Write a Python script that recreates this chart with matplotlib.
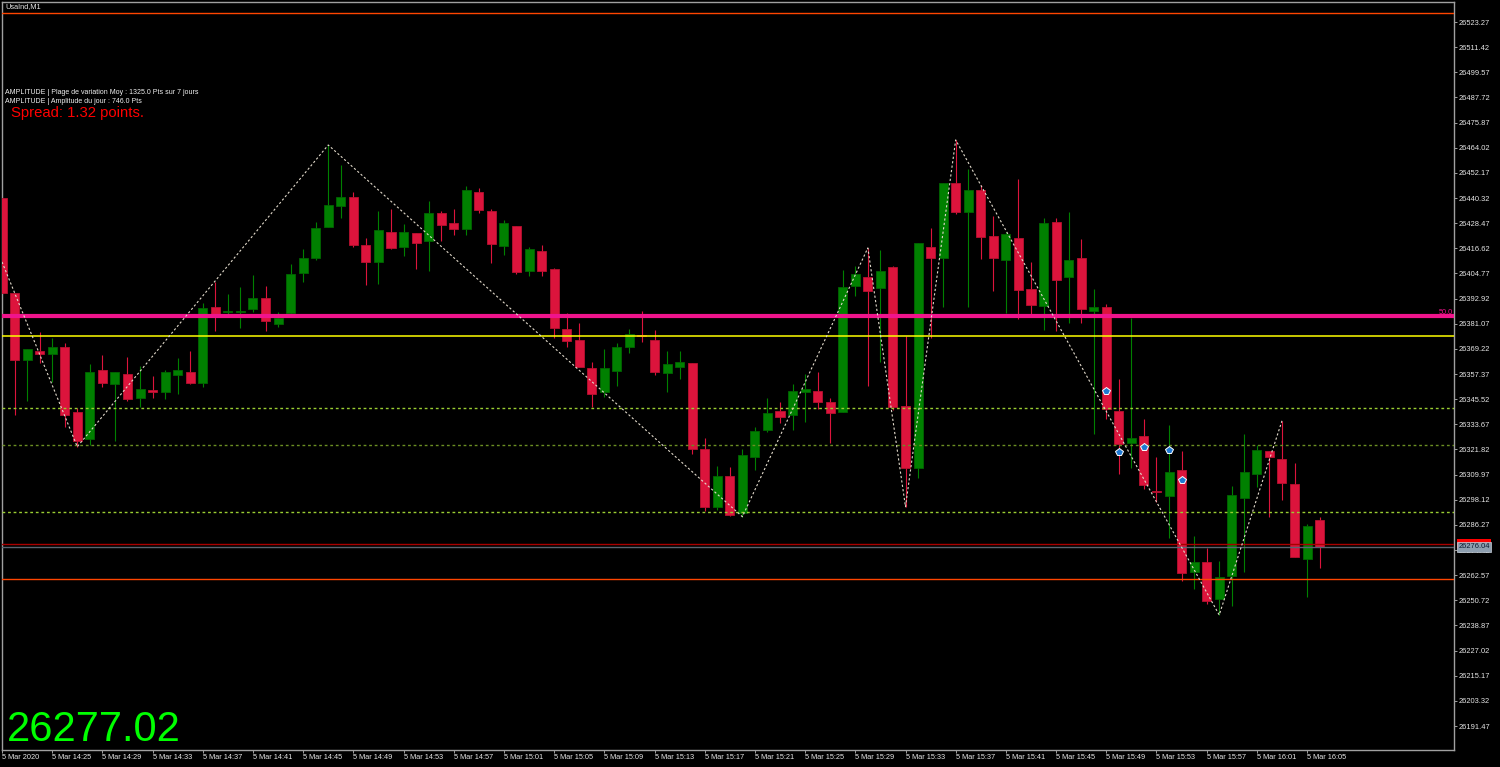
import matplotlib
matplotlib.use("Agg")
import matplotlib.pyplot as plt
from matplotlib.patches import Rectangle
import numpy as np

# ---------------- data ----------------
opens = [26440.2, 26395.7, 26364.0, 26368.1, 26366.8, 26370.2, 26339.3, 26326.9, 26359.3, 26352.7,
         26357.4, 26345.9, 26349.6, 26349.0, 26356.9, 26358.2, 26353.0, 26389.1, 26386.4, 26386.6,
         26387.9, 26393.1, 26380.8, 26386.0, 26404.8, 26411.9, 26426.7, 26436.7, 26440.7, 26418.2,
         26410.0, 26424.3, 26417.1, 26423.7, 26420.1, 26433.1, 26428.4, 26425.7, 26443.2, 26434.2,
         26417.7, 26427.1, 26405.9, 26415.3, 26406.9, 26378.4, 26373.2, 26360.3, 26349.0, 26358.9,
         26370.0, 26375.6, 26373.2, 26357.7, 26360.8, 26362.4, 26322.2, 26294.8, 26309.3, 26292.0,
         26318.4, 26330.8, 26339.9, 26337.9, 26349.0, 26349.4, 26344.0, 26339.6, 26399.0, 26403.2,
         26397.8, 26408.0, 26342.3, 26313.2, 26417.2, 26412.2, 26447.3, 26433.9, 26444.1, 26422.4,
         26411.1, 26421.3, 26397.3, 26389.6, 26429.0, 26403.0, 26412.0, 26387.1, 26389.1, 26339.9,
         26325.0, 26328.1, 26302.1, 26300.0, 26312.1, 26264.2, 26268.6, 26251.5, 26262.2, 26299.1,
         26310.2, 26321.1, 26317.3, 26305.5, 26270.3, 26288.6]
highs = [26440.2, 26395.7, 26369.0, 26377.0, 26374.3, 26372.1, 26341.2, 26362.1, 26366.3, 26358.2,
         26365.5, 26361.1, 26356.4, 26359.3, 26365.1, 26368.1, 26391.0, 26400.9, 26395.1, 26398.4,
         26403.9, 26399.0, 26386.7, 26409.1, 26416.3, 26428.9, 26465.3, 26455.9, 26443.0, 26421.3,
         26434.2, 26435.0, 26428.2, 26423.9, 26438.9, 26434.2, 26435.1, 26446.1, 26444.9, 26435.0,
         26430.0, 26427.3, 26417.1, 26418.3, 26407.1, 26386.0, 26381.3, 26363.2, 26369.0, 26372.1,
         26378.4, 26387.2, 26378.1, 26368.2, 26368.2, 26362.6, 26327.3, 26314.0, 26313.4, 26322.0,
         26332.3, 26346.2, 26344.3, 26352.5, 26357.2, 26358.5, 26346.2, 26406.4, 26408.3, 26416.8,
         26416.0, 26408.2, 26375.4, 26419.2, 26426.2, 26447.5, 26467.7, 26454.0, 26446.4, 26432.0,
         26424.4, 26449.3, 26410.2, 26430.9, 26430.9, 26433.7, 26421.0, 26397.3, 26390.4, 26355.0,
         26383.6, 26336.2, 26318.1, 26333.3, 26321.1, 26281.2, 26275.2, 26269.4, 26304.6, 26329.2,
         26323.9, 26321.3, 26335.3, 26315.6, 26286.7, 26290.1]
lows = [26394.6, 26337.9, 26344.8, 26362.7, 26353.6, 26332.5, 26323.1, 26323.9, 26351.1, 26325.8,
        26344.8, 26342.0, 26345.9, 26345.6, 26347.8, 26352.8, 26351.1, 26377.8, 26385.2, 26378.9,
        26386.7, 26377.8, 26379.7, 26385.5, 26400.9, 26411.1, 26426.5, 26431.0, 26417.1, 26399.3,
        26399.7, 26416.1, 26413.0, 26407.0, 26406.1, 26420.1, 26422.9, 26422.9, 26433.4, 26409.8,
        26413.5, 26404.6, 26403.6, 26403.6, 26374.2, 26370.0, 26360.6, 26342.0, 26346.7, 26351.7,
        26367.1, 26372.6, 26356.8, 26349.0, 26354.9, 26319.7, 26293.0, 26293.3, 26290.6, 26290.1,
        26312.1, 26330.0, 26334.2, 26331.0, 26334.9, 26341.0, 26325.0, 26339.4, 26394.1, 26351.9,
        26363.2, 26340.4, 26294.8, 26308.2, 26374.2, 26388.8, 26432.8, 26389.1, 26411.7, 26396.6,
        26386.0, 26383.2, 26385.2, 26378.1, 26377.6, 26381.6, 26381.5, 26329.1, 26336.0, 26310.2,
        26313.2, 26303.0, 26297.2, 26280.2, 26260.0, 26255.9, 26248.8, 26243.8, 26248.2, 26263.9,
        26304.3, 26289.8, 26298.0, 26271.0, 26252.4, 26266.1]
closes = [26395.7, 26364.0, 26369.0, 26366.9, 26370.2, 26338.1, 26325.9, 26358.2, 26353.0, 26358.2,
          26345.6, 26350.3, 26349.1, 26358.2, 26359.3, 26353.0, 26388.5, 26385.2, 26386.8, 26387.1,
          26393.1, 26382.4, 26383.9, 26404.4, 26411.9, 26426.0, 26437.0, 26440.7, 26418.2, 26410.0,
          26425.2, 26416.6, 26424.3, 26419.0, 26433.1, 26427.6, 26425.9, 26444.1, 26434.7, 26418.6,
          26428.4, 26405.6, 26416.1, 26405.9, 26378.9, 26373.1, 26360.8, 26347.8, 26360.2, 26370.2,
          26376.2, 26375.3, 26358.3, 26362.1, 26362.9, 26322.0, 26294.8, 26309.3, 26290.9, 26319.2,
          26330.4, 26339.1, 26337.3, 26349.2, 26350.3, 26344.2, 26339.0, 26398.4, 26404.4, 26396.6,
          26406.1, 26342.0, 26313.2, 26419.0, 26412.2, 26447.3, 26433.9, 26444.1, 26421.8, 26412.2,
          26423.2, 26397.0, 26390.0, 26428.4, 26401.7, 26411.1, 26388.0, 26389.1, 26340.9, 26324.2,
          26327.3, 26305.1, 26301.7, 26311.2, 26263.4, 26268.6, 26250.4, 26261.6, 26300.3, 26311.2,
          26321.6, 26318.1, 26306.1, 26271.3, 26285.7, 26276.0]

# zigzag pivots (bar index, 'H' = bar high / 'L' = bar low); first point continues from off-chart
zz_start_value = 26410.2
zz_index = [6, 26, 59, 69, 72, 76, 97, 102]
zz_kind = ['L', 'H', 'L', 'H', 'L', 'H', 'L', 'H']

# arrow signals (bar index, price)
sig_index = [88, 89, 91, 93, 94]
sig_price = [26349.5, 26320.6, 26323.1, 26321.6, 26307.4]

# horizontal levels
level_top_orange = 26527.4
level_pink = 26384.7
level_yellow = 26375.1
level_green_dotted = [26341.2, 26323.9, 26292.2]
level_ask = 26277.36
level_bid = 26276.04
level_low_orange = 26260.8

y_tick_values = [26523.27, 26511.42, 26499.57, 26487.72, 26475.87, 26464.02, 26452.17, 26440.32,
                 26428.47, 26416.62, 26404.77, 26392.92, 26381.07, 26369.22, 26357.37, 26345.52,
                 26333.67, 26321.82, 26309.97, 26298.12, 26286.27, 26274.42, 26262.57, 26250.72,
                 26238.87, 26227.02, 26215.17, 26203.32, 26191.47]
x_tick_labels = ["5 Mar 2020", "5 Mar 14:25", "5 Mar 14:29", "5 Mar 14:33", "5 Mar 14:37",
                 "5 Mar 14:41", "5 Mar 14:45", "5 Mar 14:49", "5 Mar 14:53", "5 Mar 14:57",
                 "5 Mar 15:01", "5 Mar 15:05", "5 Mar 15:09", "5 Mar 15:13", "5 Mar 15:17",
                 "5 Mar 15:21", "5 Mar 15:25", "5 Mar 15:29", "5 Mar 15:33", "5 Mar 15:37",
                 "5 Mar 15:41", "5 Mar 15:45", "5 Mar 15:49", "5 Mar 15:53", "5 Mar 15:57",
                 "5 Mar 16:01", "5 Mar 16:05"]
x_tick_bars = [0, 4, 8, 12, 16, 20, 24, 28, 32, 36, 40, 44, 48, 52, 56, 60, 64, 68, 72, 76, 80,
               84, 88, 92, 96, 100, 104]

title_text = "UsaInd,M1"
info_line1 = "AMPLITUDE | Plage de variation Moy : 1325.0 Pts sur 7 jours"
info_line2 = "AMPLITUDE | Amplitude du jour : 746.0 Pts"
spread_text = "Spread: 1.32 points."
big_price_text = "26277.02"
level_label = "50.0"

# ---------------- figure ----------------
W, H = 1500, 767
fig = plt.figure(figsize=(15, 7.67), dpi=100, facecolor='black')
FONT = 'Liberation Sans'
plt.rcParams['font.family'] = [FONT, 'DejaVu Sans']

def fx(px):
    return px / W

def fy(py):
    return 1 - py / H

ax = fig.add_axes([fx(2), fy(750), fx(1454) - fx(2), fy(2) - fy(750)])
ax.set_facecolor('black')

o = np.array(opens); h = np.array(highs); l = np.array(lows); c = np.array(closes)
idx = np.arange(len(o))
bull = c >= o
BULL = '#008000'
BEAR = '#DC143C'
colors = np.where(bull, BULL, BEAR)
edgecols = np.where(bull, '#006400', '#B8102F')

ax.vlines(idx, l, h, colors=colors, linewidth=0.8, zorder=2)
bottoms = np.minimum(o, c)
heights = np.maximum(np.abs(c - o), 0.5)
ax.bar(idx, heights, bottom=bottoms, width=0.72, color=colors, edgecolor=edgecols,
       linewidth=0.6, zorder=3)

# horizontal levels (drawn in foreground like chart objects)
ax.axhline(level_top_orange, color='#FF4500', lw=1.0, zorder=5)
ax.axhline(level_pink, color='#F0148C', lw=3.0, zorder=5)
ax.axhline(level_yellow, color='#FFFF00', lw=1.1, zorder=5)
green_cols = ['#9ACD32', '#6B8E23', '#9ACD32']
for lv, gc in zip(level_green_dotted, green_cols):
    ax.axhline(lv, color=gc, lw=1.0, linestyle=(0, (2, 2)), zorder=5)
ax.axhline(level_ask, color='#A80000', lw=1.0, zorder=5)
ax.axhline(level_bid, color='#5A6470', lw=1.0, zorder=5)
ax.axhline(level_low_orange, color='#FF4500', lw=1.0, zorder=5)

# zigzag
zz_x = [0] + zz_index
zz_y = [zz_start_value] + [h[i] if k == 'H' else l[i] for i, k in zip(zz_index, zz_kind)]
ax.plot(zz_x, zz_y, color='#E2DACB', lw=0.8, linestyle=(0, (2, 2)), zorder=6)

# signals
ax.plot(sig_index, sig_price, linestyle='none', marker='p', markersize=5.5,
        markerfacecolor='#1E78D2', markeredgecolor='white', markeredgewidth=0.7, zorder=7)

# axes limits
ax.set_xlim(0.016, 115.71)
ax.set_ylim(26180.16, 26532.70)

# spines
for s in ax.spines.values():
    s.set_color('#A0A0A0')
    s.set_linewidth(1.0)

# ticks
ax.yaxis.tick_right()
ax.set_yticks(y_tick_values)
ax.set_yticklabels([f"{v:.2f}" for v in y_tick_values])
ax.tick_params(axis='y', direction='out', length=2.5, width=0.7, colors='#A0A0A0',
               labelcolor='#E6E6E6', labelsize=5.4, pad=0.8)
ax.set_xticks(x_tick_bars)
ax.set_xticklabels(x_tick_labels)
ax.tick_params(axis='x', direction='out', length=2.2, width=0.7, colors='#A0A0A0',
               labelcolor='#E6E6E6', labelsize=5.3, pad=1.0)
for lab in ax.get_xticklabels():
    lab.set_horizontalalignment('left')

# texts
fig.text(fx(5), fy(7), title_text, color='#E8E8E8', fontsize=5.3, va='center', ha='left')
fig.text(fx(5), fy(92.3), info_line1, color='#F0F0F0', fontsize=5.0, va='center', ha='left')
fig.text(fx(5), fy(101.7), info_line2, color='#F0F0F0', fontsize=5.0, va='center', ha='left')
fig.text(fx(11), fy(113), spread_text, color='#FF0000', fontsize=10.7, va='center', ha='left')
fig.text(fx(7), fy(740.7), big_price_text, color='#00FF00', fontsize=30, va='baseline', ha='left')
fig.text(fx(1453), fy(313.5), level_label, color='#F0148C', fontsize=5.3, va='baseline', ha='right')

# price boxes on the right scale (ask box mostly hidden behind the bid box)
fig.patches.append(Rectangle((fx(1457), fy(547.5)), fx(34), 8.2 / H, transform=fig.transFigure,
                             facecolor='#FF0000', edgecolor='none', zorder=5))
fig.patches.append(Rectangle((fx(1457), fy(551.5)), fx(34), 9.2 / H, transform=fig.transFigure,
                             facecolor='#8E9FB0', edgecolor='#C8D0D8', linewidth=0.5, zorder=7))
fig.text(fx(1474), fy(547), f"{level_bid:.2f}", color='#0A1A30', fontsize=5.4,
         ha='center', va='center', zorder=8)

fig.savefig('out.png', dpi=100, facecolor='black')
